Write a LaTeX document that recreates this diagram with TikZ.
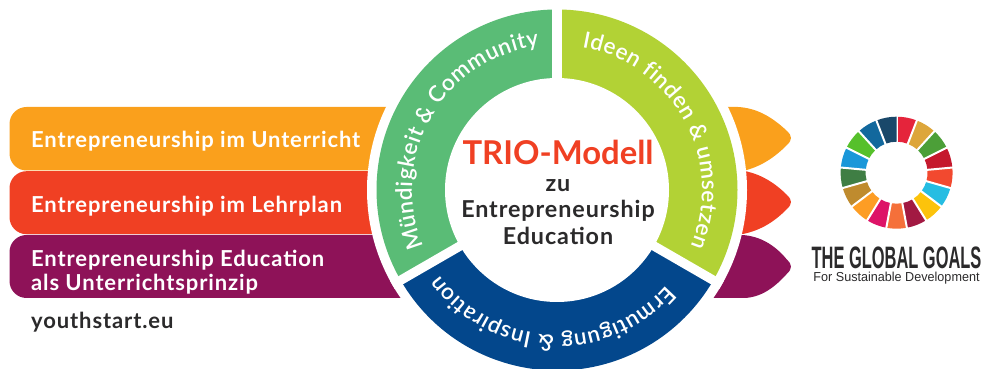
\documentclass[tikz,border=0pt]{standalone}
\usepackage{fontspec}
\setmainfont[LetterSpace=4]{Lato}
\newfontfamily\ringfont{Lato Semibold}
\newfontfamily\triofont{Lato}
\newfontfamily\goalsfont[FakeStretch=0.53]{Liberation Sans}
\newfontfamily\devfont[FakeStretch=0.97]{Liberation Sans}
\usetikzlibrary{backgrounds}
\usetikzlibrary{decorations.text}

\definecolor{bandorange}{HTML}{FAA01C}
\definecolor{bandred}{HTML}{F04023}
\definecolor{bandpurple}{HTML}{8E1258}
\definecolor{ringgreen}{HTML}{5ABC76}
\definecolor{ringlime}{HTML}{B2D235}
\definecolor{ringblue}{HTML}{03478C}
\definecolor{darktext}{HTML}{2B2A2B}

\tikzset{
	band/.style={rounded corners=17pt},
	bandlabel/.style={anchor=base west, inner sep=0pt, text=white, font=\fontsize{22}{24.5}\selectfont\bfseries, align=left},
	midlabel/.style={anchor=base, inner sep=0pt, text=darktext, font=\fontsize{23.3}{24}\selectfont\bfseries},
	ringtext/.style={postaction={decorate}, decoration={text along path, text align={fit to path}, text color=white, text={|\ringfont\fontsize{22.5}{24}\selectfont|#1}}},
}

\begin{document}
\begin{tikzpicture}[x=1pt,y=1pt]
		\useasboundingbox (0,0) rectangle (983,369);
		
		\begin{scope}[on background layer]
			\fill[band, bandorange] (500,262) -- (9.5,262) -- (9.5,198.5) -- (500,198.5);
			\fill[band, bandred] (500,197.8) -- (9.5,197.8) -- (9.5,134.8) -- (500,134.8);
			\fill[band, bandpurple] (500,134) -- (9.5,134) -- (9.5,71) -- (500,71);
			
			\fill[bandorange] (700,262) -- (738,262) .. controls (755,261) and (770,254) .. (787,238)
			.. controls (792.3,233) and (792.3,229) .. (787,224)
			.. controls (775,212) and (762,203) .. (745,198.5) -- (700,198.5) -- cycle;
			\fill[bandred] (700,197.5) -- (747,197.5) .. controls (762,194) and (775,186) .. (787,174)
			.. controls (792.3,169) and (792.3,165) .. (787,160)
			.. controls (775,148) and (762,139) .. (743,135) -- (700,135) -- cycle;
			\fill[bandpurple] (700,134) -- (742,134) .. controls (760,133) and (775,124) .. (787,109.3)
			.. controls (792.3,104.3) and (792.3,100.3) .. (787,95.3)
			.. controls (775,82) and (762,72) .. (745,71) -- (700,71) -- cycle;
		\end{scope}
		
		\begin{scope}[shift={(557,179)}]
			\fill[white] (0,0) circle[radius=190pt];
			\fill[ringgreen] (90:180.5pt) arc[start angle=90, end angle=210, radius=180.5pt] -- (0,0) -- cycle;
			\fill[ringlime] (90:180.5pt) arc[start angle=90, end angle=-30, radius=180.5pt] -- (0,0) -- cycle;
			\fill[ringblue] (210:180.5pt) arc[start angle=210, end angle=330, radius=180.5pt] -- (0,0) -- cycle;
			\draw[white, line width=9.3pt] (0,0) -- (90:190pt);
			\draw[white, line width=9.3pt] (0,0) -- (210:190pt);
			\draw[white, line width=9.3pt] (0,0) -- (330:190pt);
			\fill[white] (0,0) circle[radius=112pt];
			
			\path[ringtext={Mündigkeit {\&} Community}] (203:145pt) arc[start angle=203, end angle=97, radius=145pt];
			\path[ringtext={Ideen finden {\&} umsetzen}] (80:145pt) arc[start angle=80, end angle=-23, radius=145pt];
			\path[ringtext={Ermutigung {\&} Inspiration}] (-41:145pt) arc[start angle=-41, end angle=-144, radius=145pt];
		\end{scope}
		
		\node[bandlabel] (unterricht) at (31,221.3) {Entrepreneurship im Unterricht};
		\node[bandlabel] (lehrplan) at (31,156.3) {Entrepreneurship im Lehrplan};
		\node[bandlabel] (prinzip) at (31,102.6) {Entrepreneurship Education};
		\node[bandlabel] (prinzipb) at (31,78.3) {als Unterrichtsprinzip};
		\node[bandlabel, text=darktext] (youth) at (31,40) {youthstart.eu};
		
		\node[midlabel, text=bandred, font=\triofont\fontsize{32.8}{36}\selectfont\bfseries] (trio) at (558,204.5) {TRIO-Modell};
		\node[midlabel] (zu) at (558,177.3) {zu};
		\node[midlabel] (entre) at (558,151.3) {Entrepreneurship};
		\node[midlabel] (edu) at (558,124.7) {Education};
		
		% wheel of the goals
		\begin{scope}[shift={(896.6,196.3)}]
			\foreach \wcol [count=\i from 0] in {E5243B,DDA63A,4C9F38,C5192D,F2492F,26BDE2,FCC30B,A21942,F5703A,DD1367,FD9D24,BF8B2E,3F7E44,1A97D9,56C02B,12689D,19486A}{
				\definecolor{wheelcol}{HTML}{\wcol}
				\pgfmathsetmacro{\wa}{90-\i*360/17}
				\pgfmathsetmacro{\wb}{\wa-360/17}
				\fill[wheelcol] (\wa:56pt) arc[start angle=\wa, end angle=\wb, radius=56pt] -- (\wb:31pt) arc[start angle=\wb, end angle=\wa, radius=31pt] -- cycle;
				\draw[white, line width=2pt] (\wa:28pt) -- (\wa:58pt);
			}
		\end{scope}
		\node[anchor=base, inner sep=0pt, text=darktext, font=\goalsfont\fontsize{31}{33}\selectfont\bfseries] (goals) at (896.5,100.2) {THE GLOBAL GOALS};
		\node[anchor=base, inner sep=0pt, text=darktext, font=\devfont\fontsize{13}{15}\selectfont] (develop) at (896.5,87) {For Sustainable Development};
		
	\end{tikzpicture}
\end{document}
